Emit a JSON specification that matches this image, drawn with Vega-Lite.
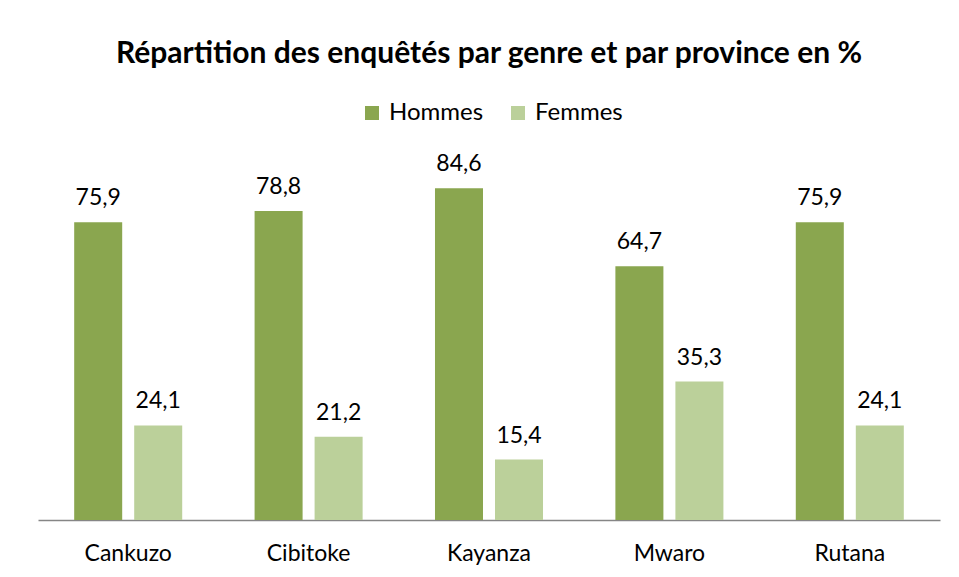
{
  "$schema": "https://vega.github.io/schema/vega-lite/v6.json",
  "autosize": {"type": "none"},
  "width": 902,
  "height": 353,
  "padding": {"left": 38, "top": 167, "right": 19, "bottom": 57},
  "background": "white",
  "title": {
    "text": "Répartition des enquêtés par genre et par province en %",
    "font": "Lato",
    "fontSize": 30,
    "fontWeight": "bold",
    "color": "#000000",
    "anchor": "middle",
    "baseline": "alphabetic",
    "offset": 8
  },
  "data": {
    "values": [
      {"province": "Cankuzo", "genre": "Hommes", "pct": 75.9},
      {"province": "Cankuzo", "genre": "Femmes", "pct": 24.1},
      {"province": "Cibitoke", "genre": "Hommes", "pct": 78.8},
      {"province": "Cibitoke", "genre": "Femmes", "pct": 21.2},
      {"province": "Kayanza", "genre": "Hommes", "pct": 84.6},
      {"province": "Kayanza", "genre": "Femmes", "pct": 15.4},
      {"province": "Mwaro", "genre": "Hommes", "pct": 64.7},
      {"province": "Mwaro", "genre": "Femmes", "pct": 35.3},
      {"province": "Rutana", "genre": "Hommes", "pct": 75.9},
      {"province": "Rutana", "genre": "Femmes", "pct": 24.1}
    ]
  },
  "encoding": {
    "x": {
      "field": "province",
      "type": "nominal",
      "sort": null,
      "scale": {"paddingInner": 0, "paddingOuter": 0},
      "axis": {
        "title": null,
        "labelAngle": 0,
        "labelFont": "Lato",
        "labelFontSize": 23,
        "labelColor": "#000000",
        "labelPadding": 22,
        "ticks": false,
        "domainColor": "#868686",
        "domainWidth": 1.5
      }
    },
    "xOffset": {
      "field": "genre",
      "type": "nominal",
      "sort": ["Hommes", "Femmes"],
      "scale": {"paddingInner": 0.2, "paddingOuter": 0.603}
    },
    "y": {
      "field": "pct",
      "type": "quantitative",
      "scale": {"domain": [0, 90]},
      "axis": null
    }
  },
  "layer": [
    {
      "mark": {"type": "bar"},
      "encoding": {
        "color": {
          "field": "genre",
          "type": "nominal",
          "sort": ["Hommes", "Femmes"],
          "scale": {"domain": ["Hommes", "Femmes"], "range": ["#8aa64f", "#bbd09a"]},
          "legend": {
            "title": null,
            "orient": "none",
            "legendX": 322,
            "legendY": -66,
            "direction": "horizontal",
            "symbolType": "square",
            "symbolSize": 196,
            "symbolStrokeWidth": 0,
            "labelFont": "Lato",
            "labelFontSize": 24,
            "labelColor": "#000000",
            "labelOffset": 5,
            "columnPadding": 22
          }
        }
      }
    },
    {
      "mark": {"type": "text", "baseline": "alphabetic", "dy": -17, "font": "Lato", "fontSize": 23, "color": "#000000"},
      "encoding": {
        "text": {"field": "pct", "type": "quantitative", "format": ".1f", "formatType": "number"}
      }
    }
  ],
  "config": {
    "locale": {"number": {"decimal": ",", "thousands": " ", "grouping": [3], "currency": ["", " €"]}},
    "view": {"stroke": null}
  }
}
